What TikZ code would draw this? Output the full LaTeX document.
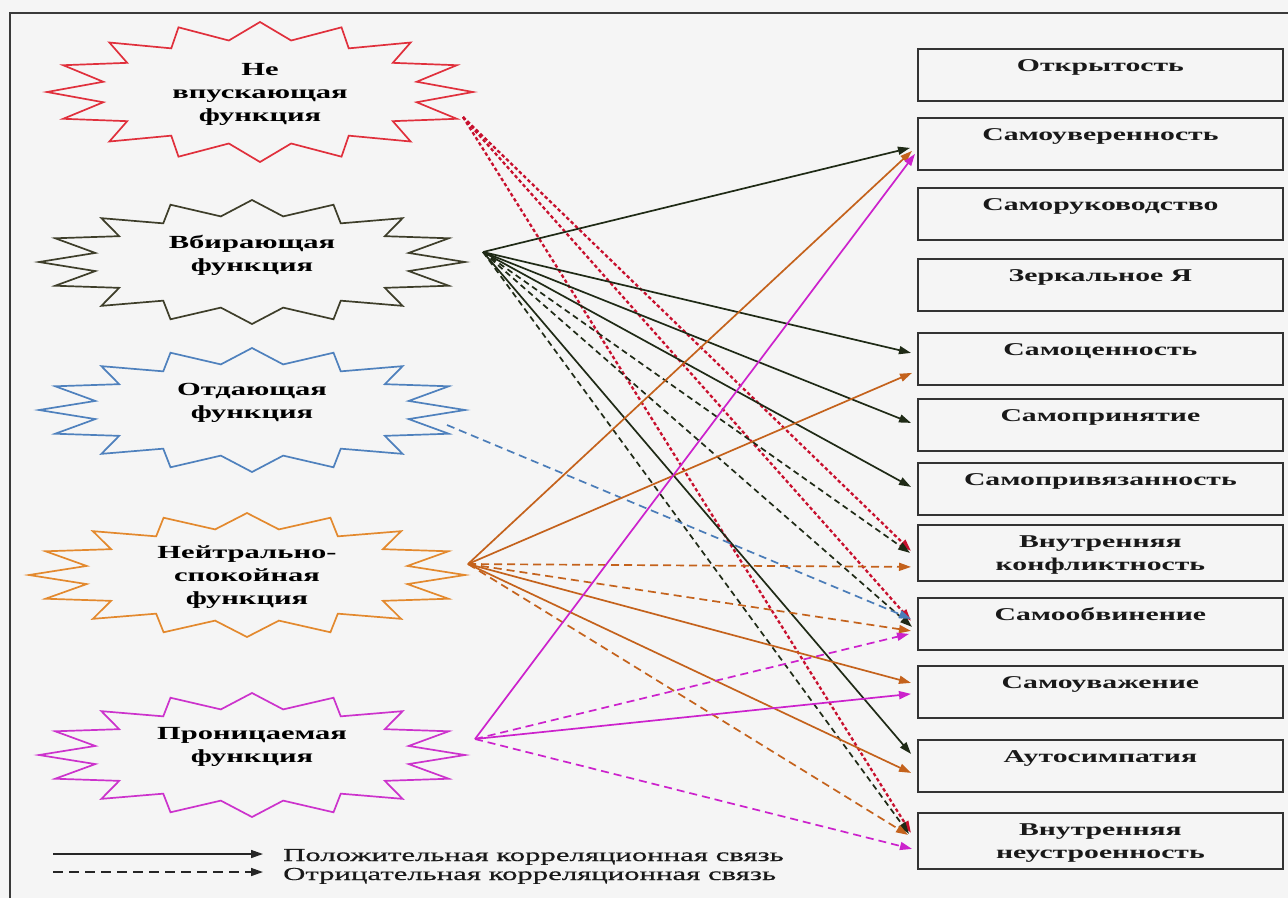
\documentclass[tikz,border=0pt]{standalone}
\usepackage{fontspec}
\setmainfont{Liberation Serif}
\newfontfamily\wideserif{Liberation Serif}[FakeStretch=1.65]
\newfontfamily\legserif{Liberation Serif}[FakeStretch=1.68,FakeBold=0.6]
\usetikzlibrary{arrows.meta}
\definecolor{bgc}{HTML}{F5F5F5}
\definecolor{framec}{HTML}{3A3A3A}
\definecolor{boxc}{HTML}{333333}
\definecolor{redstar}{HTML}{E0303C}
\definecolor{redline}{HTML}{C8102E}
\definecolor{grstar}{HTML}{3E3E2A}
\definecolor{grline}{HTML}{1F2A16}
\definecolor{blstar}{HTML}{4F81BD}
\definecolor{blline}{HTML}{4A7CB8}
\definecolor{orstar}{HTML}{E3892E}
\definecolor{orline}{HTML}{C4621C}
\definecolor{mgstar}{HTML}{CC33CC}
\definecolor{mgline}{HTML}{CC22CC}
\newcommand\starshape[5]{%
  \draw[#1, line width=1.7pt, line join=miter] ({#2+#4},{#3})
    \foreach \k in {1,...,31}{ -- ({#2+#4*(0.875+0.125*cos(\k*180))*cos(\k*11.25)},{#3+#5*(0.875+0.125*cos(\k*180))*sin(\k*11.25)})} -- cycle;}
\tikzset{
  lab/.style={font=\wideserif\bfseries\fontsize{18.5}{23}\selectfont, align=center, inner sep=0pt, text=black},
  box/.style={draw=boxc, line width=1.8pt, minimum width=365pt, anchor=north west,
    inner xsep=0pt, inner ysep=10pt, text height=13pt, text depth=19pt,
    font=\wideserif\bfseries\fontsize{18}{23}\selectfont, align=center, text=black!90},
  boxtwo/.style={box, text height=36pt, text depth=-4pt},
  leg/.style={font=\legserif\fontsize{18.3}{20}\selectfont, inner sep=0pt, text=black!90},
  poscon/.style={-{Triangle[length=12pt,width=8pt]}, line width=1.7pt},
  negcon/.style={poscon, dash pattern=on 6pt off 4pt},
  ornegcon/.style={poscon, dash pattern=on 8pt off 5pt},
  rednegcon/.style={-{Triangle[length=12pt,width=8pt]}, line width=2.3pt, dash pattern=on 3.5pt off 2.5pt, redline},
}
\begin{document}
\begin{tikzpicture}[x=1pt,y=-1pt]
\useasboundingbox (0,0) rectangle (1288,898);
\fill[bgc] (0,0) rectangle (1288,898);
\draw[framec, line width=2pt] (10,898) -- (10,13) -- (1288,13);

% stars
\starshape{redstar}{260}{92}{213}{70}
\starshape{grstar}{252}{262}{213}{62}
\starshape{blstar}{252}{410}{213}{62}
\starshape{orstar}{247}{575}{218}{62}
\starshape{mgstar}{252}{755}{213}{62}

\node[lab] (s1) at (260,94) {Не\\впускающая\\функция};
\node[lab] (s2) at (252,255) {Вбирающая\\функция};
\node[lab] (s3) at (252,403) {Отдающая\\функция};
\node[lab] (s4) at (247,577) {Нейтрально-\\спокойная\\функция};
\node[lab] (s5) at (252,747) {Проницаемая\\функция};

\coordinate (o1) at (463,117);
\coordinate (o2) at (483,252);
\coordinate (o3) at (447,425);
\coordinate (o4) at (468,564);
\coordinate (o5) at (475,739);

% boxes
\node[box] (b1) at (917,48) {Открытость};
\node[box] (b2) at (917,117) {Самоуверенность};
\node[box] (b3) at (917,187) {Саморуководство};
\node[box] (b4) at (917,258) {Зеркальное Я};
\node[box] (b5) at (917,332) {Самоценность};
\node[box] (b6) at (917,398) {Самопринятие};
\node[box] (b7) at (917,462) {Самопривязанность};
\node[boxtwo] (b8) at (917,524) {Внутренняя\\конфликтность};
\node[box] (b9) at (917,597) {Самообвинение};
\node[box] (b10) at (917,665) {Самоуважение};
\node[box] (b11) at (917,739) {Аутосимпатия};
\node[boxtwo] (b12) at (917,812) {Внутренняя\\неустроенность};

% red (negative)
\draw[rednegcon] (o1) -- ([shift={(-6,-2)}]b8.west);
\draw[rednegcon] (o1) -- ([shift={(-6,-3)}]b9.west);
\draw[rednegcon] (o1) -- ([shift={(-6,-8)}]b12.west);

% green / dark
\draw[poscon, grline] (o2) -- ([shift={(-7,4)}]b2.west);
\draw[poscon, grline] (o2) -- ([shift={(-6,-6)}]b5.west);
\draw[poscon, grline] (o2) -- ([shift={(-6,-2)}]b6.west);
\draw[poscon, grline] (o2) -- ([shift={(-6,-2)}]b7.west);
\draw[poscon, grline] (o2) -- ([shift={(-6,-12)}]b11.west);
\draw[negcon, grline] (o2) -- ([shift={(-7,0)}]b8.west);
\draw[negcon, grline] (o2) -- ([shift={(-5,3)}]b9.west);
\draw[negcon, grline] (o2) -- ([shift={(-8,-7)}]b12.west);

% blue
\draw[ornegcon, blline] (o3) -- ([shift={(-6,-5)}]b9.west);

% orange
\draw[poscon, orline] (o4) -- ([shift={(-5,7)}]b2.west);
\draw[poscon, orline] (o4) -- ([shift={(-5,14)}]b5.west);
\draw[poscon, orline] (o4) -- ([shift={(-6,-9)}]b10.west);
\draw[poscon, orline] (o4) -- ([shift={(-6,7)}]b11.west);
\draw[ornegcon, orline] (o4) -- ([shift={(-6,14)}]b8.west);
\draw[ornegcon, orline] (o4) -- ([shift={(-6,7)}]b9.west);
\draw[ornegcon, orline] (o4) -- ([shift={(-9,-6)}]b12.west);

% magenta
\draw[poscon, mgline] (o5) -- ([shift={(-2,10)}]b2.west);
\draw[poscon, mgline] (o5) -- ([shift={(-6,2)}]b10.west);
\draw[ornegcon, mgline] (o5) -- ([shift={(-8,10)}]b9.west);
\draw[ornegcon, mgline] (o5) -- ([shift={(-5,8)}]b12.west);

% legend
\node[leg, anchor=base west] (leg1) at (283,861) {Положительная корреляционная связь};
\node[leg, anchor=base west] (leg2) at (283,880) {Отрицательная корреляционная связь};
\coordinate (la1) at (53,854);
\coordinate (la2) at (53,872);
\draw[poscon, black!85, line width=1.5pt, shorten >=20pt] (la1) -- (la1 -| leg1.west);
\draw[poscon, black!85, line width=1.5pt, dash pattern=on 10pt off 6pt, shorten >=20pt] (la2) -- (la2 -| leg2.west);
\end{tikzpicture}
\end{document}
